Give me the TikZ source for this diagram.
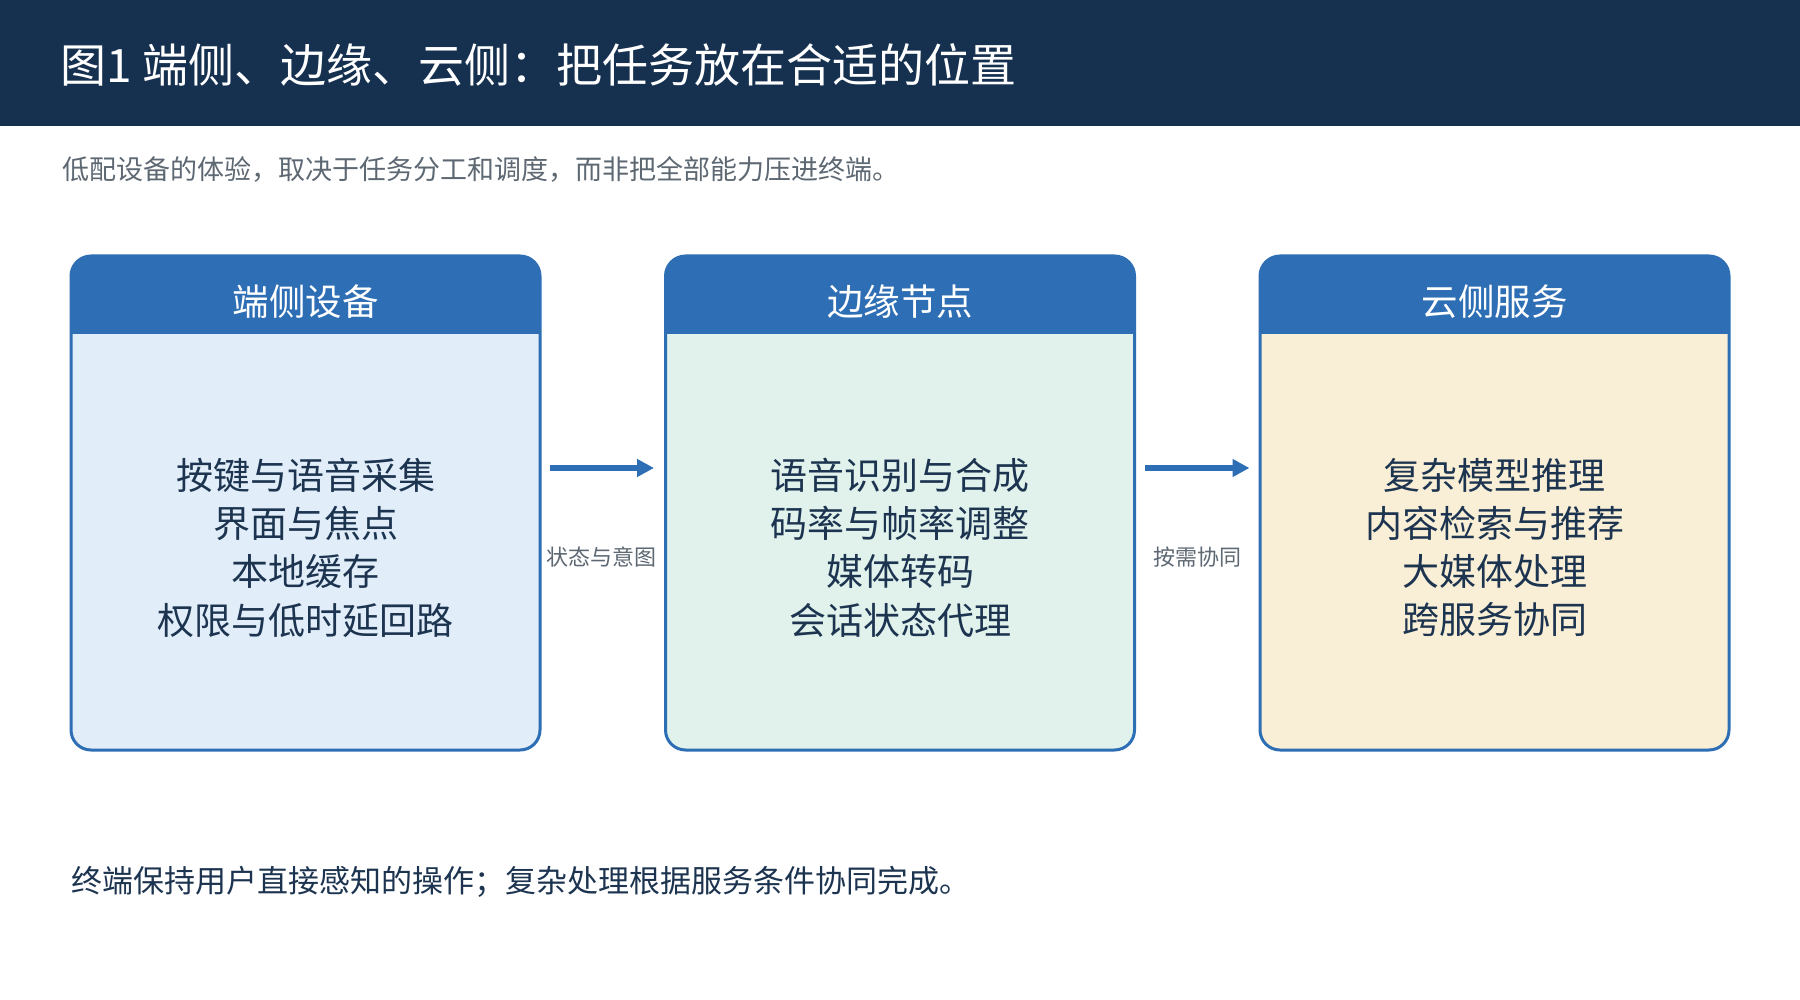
\documentclass[tikz,border=0pt]{standalone}
\usepackage{fontspec}
\setmainfont{Noto Sans CJK SC}
\usetikzlibrary{arrows.meta}
\definecolor{navy}{HTML}{163150}
\definecolor{mblue}{HTML}{2E6EB4}
\definecolor{bodyA}{HTML}{E1EEF9}
\definecolor{bodyB}{HTML}{E0F2EB}
\definecolor{bodyC}{HTML}{F9EFD6}
\definecolor{ink}{HTML}{1D3450}
\definecolor{graytxt}{HTML}{5D6873}
\tikzset{
  card/.style={draw=mblue, line width=3pt, rounded corners=20pt, inner sep=0pt,
    minimum width=469pt, minimum height=494pt,
    path picture={\fill[mblue, sharp corners] (path picture bounding box.north west) rectangle ([yshift=-78pt]path picture bounding box.north east);}},
  cardtitle/.style={text=white, font=\fontsize{36.5}{40}\selectfont, inner sep=0pt},
  cardbody/.style={text=ink, align=center, font=\fontsize{37}{48.3}\selectfont, inner sep=0pt},
  arr/.style={draw=mblue, line width=6pt, -{Triangle[length=17pt,width=17pt]}},
  lbl/.style={text=graytxt, font=\fontsize{22}{26}\selectfont, inner sep=0pt}
}
\begin{document}
\begin{tikzpicture}[x=1pt,y=-1pt]
\useasboundingbox (0,0) rectangle (1800,1000);
\fill[white] (0,0) rectangle (1800,1000);
\fill[navy] (0,0) rectangle (1800,126);
\node[anchor=west, text=white, font=\fontsize{46}{52}\selectfont, inner sep=0pt] (title) at (60,65) {图1 端侧、边缘、云侧：把任务放在合适的位置};
\node[anchor=west, text=graytxt, font=\fontsize{27}{31}\selectfont, inner sep=0pt] (sub) at (62,169) {低配设备的体验，取决于任务分工和调度，而非把全部能力压进终端。};

\node[card, fill=bodyA] (b1) at (305.5,503) {};
\node[card, fill=bodyB] (b2) at (900,503) {};
\node[card, fill=bodyC] (b3) at (1494.5,503) {};

\node[cardtitle] (h1) at (305.5,302) {端侧设备};
\node[cardtitle] (h2) at (900,302) {边缘节点};
\node[cardtitle] (h3) at (1494.5,302) {云侧服务};

\node[cardbody] (t1) at (305.5,547.5) {按键与语音采集\\界面与焦点\\本地缓存\\权限与低时延回路};
\node[cardbody] (t2) at (900,547.5) {语音识别与合成\\码率与帧率调整\\媒体转码\\会话状态代理};
\node[cardbody] (t3) at (1494.5,547.5) {复杂模型推理\\内容检索与推荐\\大媒体处理\\跨服务协同};

\draw[arr] ([xshift=8pt,yshift=35pt]b1.east) -- ([xshift=-10pt,yshift=35pt]b2.west);
\draw[arr] ([xshift=9pt,yshift=35pt]b2.east) -- ([xshift=-9pt,yshift=35pt]b3.west);
\node[lbl] (l1) at (601,557) {状态与意图};
\node[lbl] (l2) at (1197,557) {按需协同};

\node[anchor=west, text=ink, font=\fontsize{31}{36}\selectfont, inner sep=0pt] (foot) at (71,882) {终端保持用户直接感知的操作；复杂处理根据服务条件协同完成。};
\end{tikzpicture}
\end{document}
